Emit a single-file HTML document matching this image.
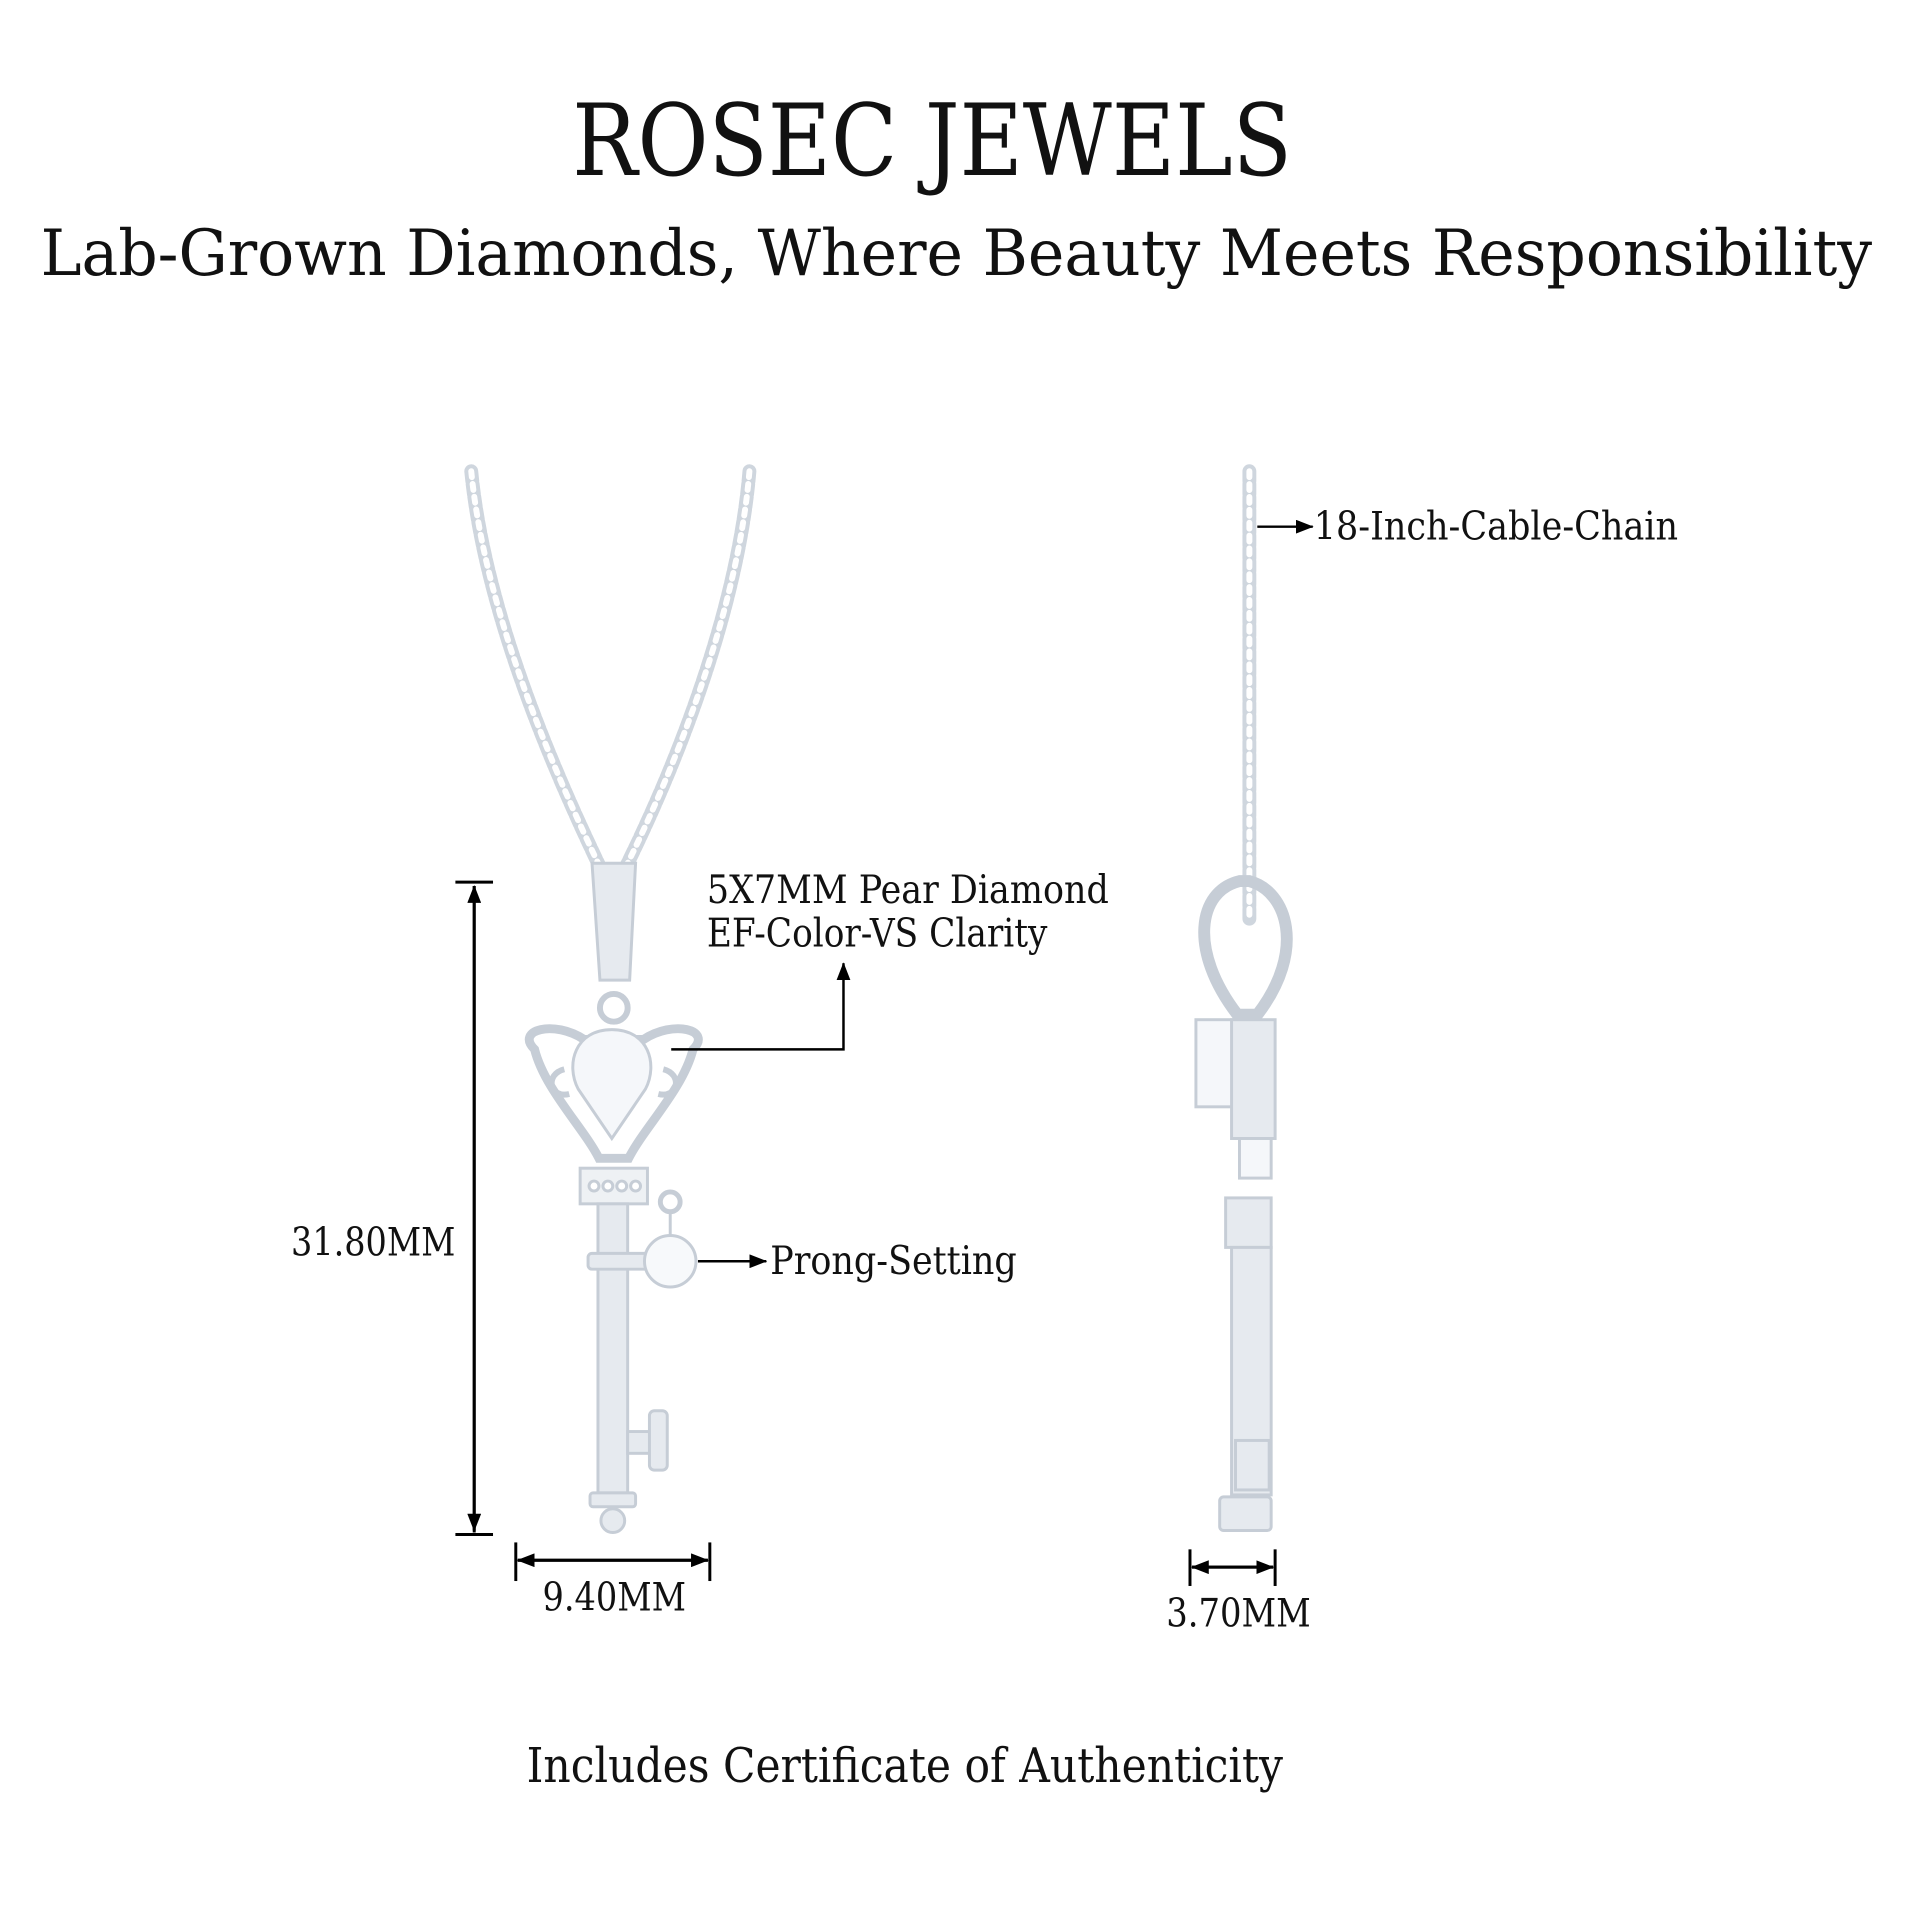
<!DOCTYPE html>
<html><head><meta charset="utf-8"><style>html,body{margin:0;padding:0;background:#fff}svg{display:block}</style></head>
<body>
<svg width="1920" height="1920" viewBox="0 0 1920 1920" xmlns="http://www.w3.org/2000/svg" font-family="'DejaVu Serif','Liberation Serif',serif">
<rect width="1920" height="1920" fill="#fff"/>
<defs>
<marker id="ah2" markerWidth="18" markerHeight="14" refX="17" refY="7" orient="auto" markerUnits="userSpaceOnUse"><path d="M0,0 L18,7 L0,14 z" fill="#000"/></marker>
</defs>
<g transform="scale(0.99)">
<text x="578" y="177" font-size="100" textLength="727" lengthAdjust="spacingAndGlyphs" fill="#111">ROSEC JEWELS</text>
<text x="41" y="278" font-size="64" textLength="1850" lengthAdjust="spacingAndGlyphs" fill="#111">Lab-Grown Diamonds, Where Beauty Meets Responsibility</text>

<g fill="none" stroke-linecap="round">
<path d="M476,476 C490,620 560,780 608,880" stroke="#cfd6de" stroke-width="14" stroke-dasharray="10 3"/>
<path d="M476,476 C490,620 560,780 608,880" stroke="#fff" stroke-width="6" stroke-dasharray="6 7"/>
<path d="M757,476 C745,620 680,780 630,880" stroke="#cfd6de" stroke-width="14" stroke-dasharray="10 3"/>
<path d="M757,476 C745,620 680,780 630,880" stroke="#fff" stroke-width="6" stroke-dasharray="6 7"/>
<path d="M1262,476 L1262,930" stroke="#cfd6de" stroke-width="14" stroke-dasharray="10 3"/>
<path d="M1262,476 L1262,930" stroke="#fff" stroke-width="6" stroke-dasharray="6 7"/>
</g>

<g fill="#e6eaef" stroke="#c6cdd6" stroke-width="3">
<path d="M598,872 L642,872 L636,990 L606,990 z"/>
<circle cx="620" cy="1018" r="14" fill="none" stroke-width="6"/>
<path d="M540,1060 C520,1040 560,1030 590,1050 L650,1050 C680,1030 720,1040 700,1060 C690,1100 650,1140 635,1170 L605,1170 C590,1140 550,1100 540,1060 z" fill="none" stroke-width="9"/>
<path d="M570,1080 c-20,5 -15,30 5,25" fill="none" stroke-width="6"/>
<path d="M670,1080 c20,5 15,30 -5,25" fill="none" stroke-width="6"/>
<path d="M618,1040 C655,1040 665,1075 652,1100 L618,1150 L584,1100 C571,1075 581,1040 618,1040 z" fill="#f5f7fa"/>
<rect x="586" y="1180" width="68" height="36" fill="#eef1f4"/>
<circle cx="600" cy="1198" r="5" fill="#fff"/><circle cx="614" cy="1198" r="5" fill="#fff"/><circle cx="628" cy="1198" r="5" fill="#fff"/><circle cx="642" cy="1198" r="5" fill="#fff"/>
<rect x="604" y="1216" width="30" height="292"/>
<rect x="594" y="1266" width="62" height="16" rx="4"/>
<circle cx="677" cy="1214" r="10" fill="none" stroke-width="5"/>
<line x1="677" y1="1224" x2="677" y2="1250"/>
<circle cx="677" cy="1274" r="26" fill="#f7f9fb"/>
<rect x="634" y="1446" width="24" height="22"/>
<rect x="656" y="1425" width="18" height="60" rx="5"/>
<rect x="596" y="1508" width="46" height="14" rx="3"/>
<circle cx="619" cy="1536" r="12"/>
</g>

<g fill="#e6eaef" stroke="#c6cdd6" stroke-width="3">
<path d="M1252,890 C1210,900 1200,960 1250,1025 L1270,1025 C1320,960 1300,900 1262,890 z" fill="none" stroke-width="12"/>
<rect x="1208" y="1030" width="40" height="88" fill="#f5f7fa"/>
<rect x="1244" y="1030" width="44" height="120"/>
<rect x="1252" y="1150" width="32" height="40" fill="#f5f7fa"/>
<rect x="1238" y="1210" width="46" height="50"/>
<rect x="1244" y="1260" width="40" height="250"/>
<rect x="1248" y="1455" width="34" height="50"/>
<rect x="1232" y="1512" width="52" height="34" rx="4"/>
</g>

<g stroke="#000" stroke-width="3" fill="none">
<line x1="460" y1="891" x2="498" y2="891"/>
<line x1="460" y1="1550" x2="498" y2="1550"/>
<line x1="479" y1="1548" x2="479" y2="895" marker-end="url(#ah2)"/>
<line x1="479" y1="895" x2="479" y2="1546" marker-end="url(#ah2)"/>
<line x1="521" y1="1558" x2="521" y2="1597"/>
<line x1="717" y1="1558" x2="717" y2="1597"/>
<line x1="715" y1="1576" x2="523" y2="1576" marker-end="url(#ah2)"/>
<line x1="523" y1="1576" x2="715" y2="1576" marker-end="url(#ah2)"/>
<line x1="1202" y1="1565" x2="1202" y2="1602"/>
<line x1="1288" y1="1565" x2="1288" y2="1602"/>
<line x1="1286" y1="1583" x2="1204" y2="1583" marker-end="url(#ah2)"/>
<line x1="1204" y1="1583" x2="1286" y2="1583" marker-end="url(#ah2)"/>
<polyline points="678,1060 852,1060 852,973" stroke-width="2.5" marker-end="url(#ah2)"/>
<line x1="705" y1="1274" x2="774" y2="1274" stroke-width="2.5" marker-end="url(#ah2)"/>
<line x1="1270" y1="532" x2="1326" y2="532" stroke-width="2.5" marker-end="url(#ah2)"/>
</g>

<g fill="#111" font-size="40">
<text x="294" y="1268" textLength="166" lengthAdjust="spacingAndGlyphs">31.80MM</text>
<text x="548" y="1627" textLength="145" lengthAdjust="spacingAndGlyphs">9.40MM</text>
<text x="1178" y="1643" textLength="146" lengthAdjust="spacingAndGlyphs">3.70MM</text>
<text x="714" y="912" textLength="406" lengthAdjust="spacingAndGlyphs">5X7MM Pear Diamond</text>
<text x="714" y="956" textLength="344" lengthAdjust="spacingAndGlyphs">EF-Color-VS Clarity</text>
<text x="778" y="1287" textLength="249" lengthAdjust="spacingAndGlyphs">Prong-Setting</text>
<text x="1327" y="545" textLength="368" lengthAdjust="spacingAndGlyphs">18-Inch-Cable-Chain</text>
<text x="532" y="1800" font-size="48" textLength="764" lengthAdjust="spacingAndGlyphs">Includes Certificate of Authenticity</text>
</g>
</g>
</svg>
</body></html>
